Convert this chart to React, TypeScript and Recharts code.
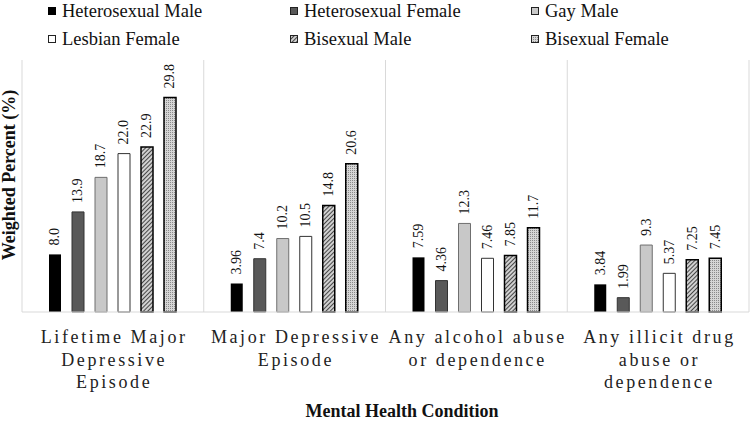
import React from "react";
import { BarChart, Bar, XAxis, YAxis, ReferenceLine, LabelList } from "recharts";

const categories = [
  "Lifetime Major\nDepressive\nEpisode",
  "Major Depressive\nEpisode",
  "Any alcohol abuse\nor dependence",
  "Any illicit drug\nabuse or\ndependence",
];
const heteroMale = [8.0, 3.96, 7.59, 3.84];
const heteroFemale = [13.9, 7.4, 4.36, 1.99];
const gayMale = [18.7, 10.2, 12.3, 9.3];
const lesbianFemale = [22.0, 10.5, 7.46, 5.37];
const bisexualMale = [22.9, 14.8, 7.85, 7.25];
const bisexualFemale = [29.8, 20.6, 11.7, 7.45];
const labelsText: Record<string, string[]> = {
  hm: ["8.0", "3.96", "7.59", "3.84"],
  hf: ["13.9", "7.4", "4.36", "1.99"],
  gm: ["18.7", "10.2", "12.3", "9.3"],
  lf: ["22.0", "10.5", "7.46", "5.37"],
  bm: ["22.9", "14.8", "7.85", "7.25"],
  bf: ["29.8", "20.6", "11.7", "7.45"],
};

const data = categories.map((name, i) => ({
  name,
  hm: heteroMale[i],
  hf: heteroFemale[i],
  gm: gayMale[i],
  lf: lesbianFemale[i],
  bm: bisexualMale[i],
  bf: bisexualFemale[i],
}));

const series = [
  { key: "hm", name: "Heterosexual Male", fill: "#000000", stroke: "#000000", sw: 0 },
  { key: "hf", name: "Heterosexual Female", fill: "#595959", stroke: "#333333", sw: 1 },
  { key: "gm", name: "Gay Male", fill: "#c8c8c8", stroke: "#6f6f6f", sw: 1 },
  { key: "lf", name: "Lesbian Female", fill: "#ffffff", stroke: "#333333", sw: 1 },
  { key: "bm", name: "Bisexual Male", fill: "url(#hatchBM)", stroke: "#000000", sw: 1.5 },
  { key: "bf", name: "Bisexual Female", fill: "url(#dotBF)", stroke: "#000000", sw: 1.5 },
];

const FONT = "'Liberation Serif', 'Times New Roman', serif";

const Patterns = ({ suffix = "" }: { suffix?: string }) => (
  <defs>
    <pattern id={"hatchBM" + suffix} width="3" height="3" patternUnits="userSpaceOnUse" patternTransform="rotate(45)">
      <rect width="3" height="3" fill="#d0d0d0" />
      <line x1="0" y1="0" x2="0" y2="3" stroke="#222" strokeWidth="1.6" />
    </pattern>
    <pattern id={"dotBF" + suffix} width="2" height="2" patternUnits="userSpaceOnUse">
      <rect width="2" height="2" fill="#d6d6d6" />
      <rect width="1" height="1" fill="#8a8a8a" />
    </pattern>
  </defs>
);

const CatTick = (props: any) => {
  const { x, y, payload } = props;
  const lines = String(payload.value).split("\n");
  return (
    <g transform={`translate(${x},${y})`}>
      {lines.map((ln, i) => (
        <text
          key={i}
          x={1.3}
          y={23 + i * 22.5}
          textAnchor="middle"
          fontFamily={FONT}
          fontSize={18}
          letterSpacing={2.6}
          fill="#222"
        >
          {ln}
        </text>
      ))}
    </g>
  );
};

const makeLabel = (key: string) => (props: any) => {
  const { x, y, width, index } = props;
  const cx = x + width / 2;
  const ty = y - 9;
  return (
    <text
      x={cx}
      y={ty}
      transform={`rotate(-90 ${cx} ${ty})`}
      textAnchor="start"
      dominantBaseline="central"
      fontFamily={FONT}
      fontSize={14}
      fill="#111"
    >
      {labelsText[key][index]}
    </text>
  );
};

const legendPos = [
  { left: 48, top: 0 },
  { left: 290, top: 0 },
  { left: 531, top: 0 },
  { left: 48, top: 28 },
  { left: 290, top: 28 },
  { left: 531, top: 28 },
];

const LegendIcon = ({ s }: { s: any }) => (
  <svg width={8} height={8} style={{ display: "block" }}>
    <Patterns suffix="L" />
    <rect
      x={0.5}
      y={0.5}
      width={7}
      height={7}
      fill={s.fill.startsWith("url") ? s.fill.replace(")", "L)") : s.fill}
      stroke={s.key === "hm" ? "#000" : "#222"}
      strokeWidth={1}
    />
  </svg>
);

export default function App() {
  return (
    <div style={{ position: "absolute", left: 0, top: 0, width: 750, height: 422, background: "#fff" }}>
      <BarChart
        width={750}
        height={422}
        data={data}
        margin={{ top: 60, right: 1, left: 22, bottom: 0 }}
        barSize={12}
        barGap={11}
      >
        <Patterns />
        <XAxis
          dataKey="name"
          type="category"
          interval={0}
          height={110}
          axisLine={{ stroke: "#d9d9d9" }}
          tickLine={false}
          tick={<CatTick />}
        />
        <YAxis domain={[0, 35]} hide />
        {categories.map((c) => (
          <ReferenceLine key={c} x={c} position="start" stroke="#d9d9d9" strokeWidth={1} />
        ))}
        <ReferenceLine x={categories[categories.length - 1]} position="end" stroke="#d9d9d9" strokeWidth={1} />
        {series.map((s) => (
          <Bar
            key={s.key}
            dataKey={s.key}
            name={s.name}
            fill={s.fill}
            stroke={s.sw ? s.stroke : "none"}
            strokeWidth={s.sw}
            isAnimationActive={false}
          >
            <LabelList dataKey={s.key} content={makeLabel(s.key)} />
          </Bar>
        ))}
      </BarChart>
      {series.map((s, i) => (
        <div
          key={s.key}
          style={{
            position: "absolute",
            left: legendPos[i].left,
            top: legendPos[i].top,
            height: 22,
            display: "flex",
            alignItems: "center",
            fontFamily: FONT,
            fontSize: 18.5,
            color: "#111",
            whiteSpace: "nowrap",
          }}
        >
          <LegendIcon s={s} />
          <span style={{ marginLeft: 6 }}>{s.name}</span>
        </div>
      ))}
      <div
        style={{
          position: "absolute",
          left: 9,
          top: 175,
          transform: "translate(-50%, -50%) rotate(-90deg)",
          fontFamily: FONT,
          fontWeight: "bold",
          fontSize: 18,
          lineHeight: "18px",
          whiteSpace: "nowrap",
          color: "#111",
        }}
      >
        Weighted Percent (%)
      </div>
      <div
        style={{
          position: "absolute",
          left: 402,
          top: 411,
          transform: "translate(-50%, -50%)",
          fontFamily: FONT,
          fontWeight: "bold",
          fontSize: 18,
          lineHeight: "18px",
          whiteSpace: "nowrap",
          color: "#111",
        }}
      >
        Mental Health Condition
      </div>
    </div>
  );
}
